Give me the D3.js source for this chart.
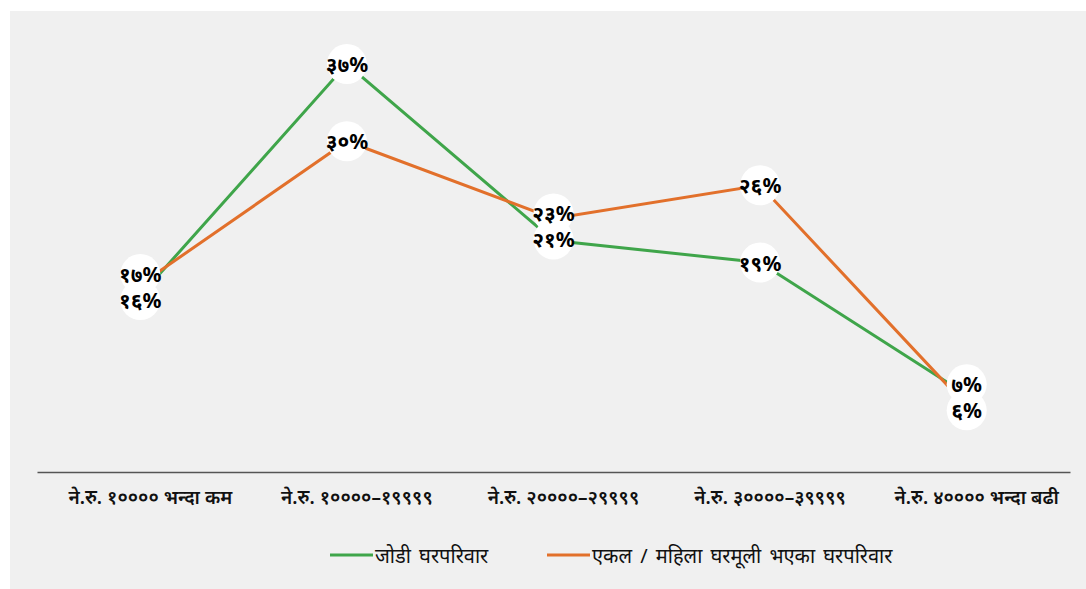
<!DOCTYPE html>
<html><head><meta charset="utf-8">
<script src="https://cdn.jsdelivr.net/npm/d3@7"></script>
<style>
html,body{margin:0;padding:0;background:#fff;}
svg{display:block;}
text{font-family:"Noto Sans","DejaVu Sans",sans-serif;}
</style></head>
<body>
<script>
const categories = ["ने.रु. १०००० भन्दा कम","ने.रु. १००००–१९९९९","ने.रु. २००००–२९९९९","ने.रु. ३००००–३९९९९","ने.रु. ४०००० भन्दा बढी"];
const seriesNames = ["जोडी घरपरिवार","एकल / महिला घरमूली भएका घरपरिवार"];
const coupleValues = [16, 37, 21, 19, 7];
const singleValues = [17, 30, 23, 26, 6];
const seriesColors = ["#3fa54a", "#e2702b"];
const devDigits = "०१२३४५६७८९";
const toDev = n => String(n).replace(/[0-9]/g, d => devDigits[+d]);

const W = 1086, H = 589;
const svg = d3.select("body").append("svg").attr("width", W).attr("height", H);
svg.append("rect").attr("x", 10).attr("y", 11).attr("width", W - 10).attr("height", H - 11).attr("fill", "#f0f0f0");

const x = d3.scaleBand().domain(categories).range([37, 1070]);
const y = d3.scaleLinear().domain([0, 40]).range([472, 31]);

const series = [
  {name: seriesNames[0], values: coupleValues, color: seriesColors[0]},
  {name: seriesNames[1], values: singleValues, color: seriesColors[1]}
];

// axis
const xAxis = d3.axisBottom(x).tickSize(0).tickPadding(19);
const gx = svg.append("g").attr("transform", "translate(0,472)").call(xAxis);
gx.select(".domain").attr("stroke", "#555").attr("stroke-width", 1.3);
gx.selectAll("text").attr("font-size", 19).attr("font-weight", "600").attr("fill", "#111").attr("dx", 10);

const cx = c => x(c) + x.bandwidth() / 2;
const line = d3.line().x((d, i) => cx(categories[i])).y(d => y(d));

series.forEach(s => {
  svg.append("path").datum(s.values).attr("d", line)
    .attr("fill", "none").attr("stroke", s.color).attr("stroke-width", 3);
});

// labels with dodge
const labels = [];
categories.forEach((c, i) => {
  const a = {v: coupleValues[i], x: cx(c), y: y(coupleValues[i])};
  const b = {v: singleValues[i], x: cx(c), y: y(singleValues[i])};
  const gap = 26;
  if (Math.abs(a.y - b.y) < gap) {
    const mid = (a.y + b.y) / 2 - 3;
    const top = a.y <= b.y ? a : b, bot = top === a ? b : a;
    top.y = mid - gap / 2; bot.y = mid + gap / 2;
  }
  labels.push(a, b);
});
svg.selectAll("circle.lbl").data(labels).join("circle").attr("class", "lbl")
  .attr("cx", d => d.x).attr("cy", d => d.y).attr("r", 20).attr("fill", "#fff");
svg.selectAll("text.lbl").data(labels).join("text").attr("class", "lbl")
  .attr("x", d => d.x).attr("y", d => d.y).attr("text-anchor", "middle")
  .attr("dominant-baseline", "central").attr("font-size", 21).attr("font-weight", "bold")
  .attr("fill", "#000").text(d => toDev(d.v) + "%");

// legend
const legX = [330, 547];
const leg = svg.append("g");
series.forEach((s, i) => {
  const g = leg.append("g").attr("transform", `translate(${legX[i]},555)`);
  g.append("line").attr("x1", 0).attr("x2", 43).attr("y1", 0).attr("y2", 0)
    .attr("stroke", s.color).attr("stroke-width", 3);
  g.append("text").attr("x", 45).attr("y", 0).attr("dominant-baseline", "central")
    .attr("font-size", 20).attr("word-spacing", 3).attr("fill", "#111").text(s.name);
});
</script>
</body></html>
